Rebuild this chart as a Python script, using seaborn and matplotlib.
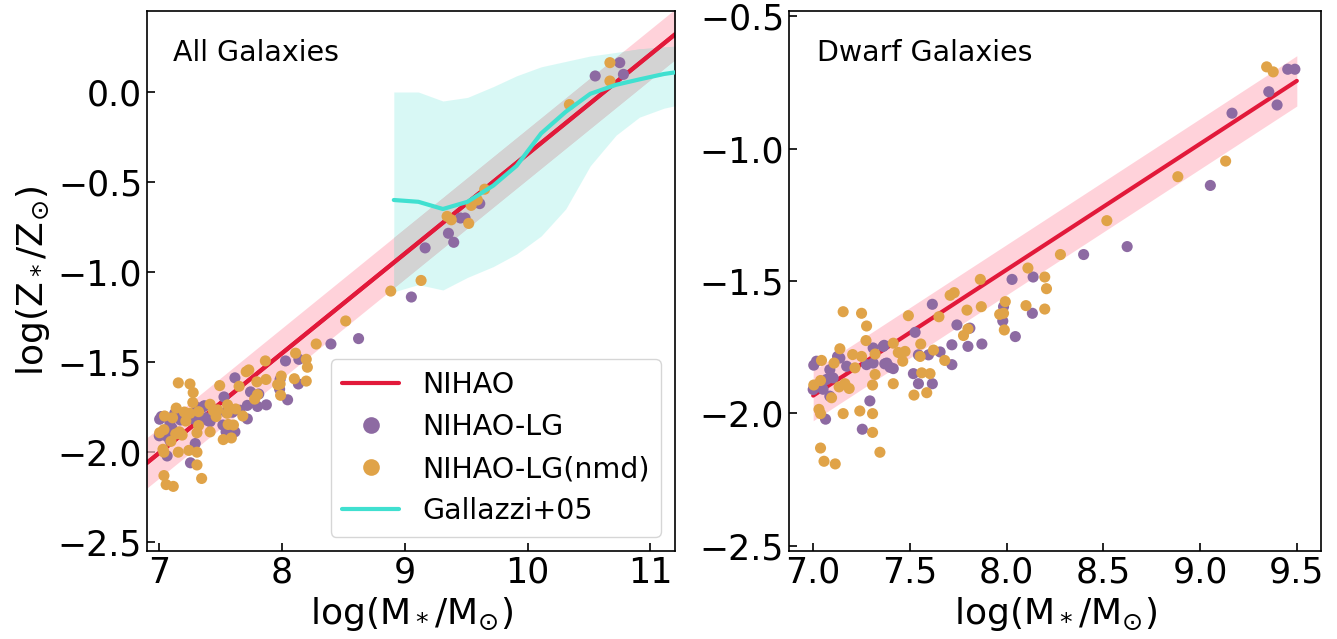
import numpy as np
import matplotlib
matplotlib.use("Agg")
import matplotlib.pyplot as plt
from matplotlib.lines import Line2D
import seaborn as sns

# NIHAO fits (mass-metallicity relation)
nihao_all_x = [6.9, 11.2]
nihao_all_y = [-2.06, 0.32]
nihao_all_sig = 0.14
nihao_dwarf_x = [7.0, 9.5]
nihao_dwarf_y = [-1.933, -0.744]
nihao_dwarf_sig = 0.095

# Gallazzi+05
gal_x = [8.91, 9.11, 9.31, 9.51, 9.72, 9.91, 10.11, 10.31, 10.51, 10.72, 10.91, 11.11, 11.31]
gal_y = [-0.60, -0.61, -0.65, -0.61, -0.52, -0.41, -0.23, -0.11, -0.01, 0.04, 0.07, 0.10, 0.12]
gal_hi = [0.00, 0.00, -0.05, -0.03, 0.03, 0.09, 0.14, 0.17, 0.20, 0.22, 0.24, 0.25, 0.26]
gal_lo = [-1.11, -1.07, -1.10, -1.03, -0.97, -0.90, -0.80, -0.65, -0.41, -0.24, -0.14, -0.09, -0.06]

# NIHAO-LG (dwarfs)
lg_x = [7.0, 7.003, 7.017, 7.051, 7.064, 7.069, 7.086, 7.086, 7.103, 7.126, 7.138, 7.173,
        7.254, 7.276, 7.293, 7.31, 7.31, 7.362, 7.367, 7.37, 7.38, 7.397, 7.414, 7.518,
        7.527, 7.544, 7.544, 7.596, 7.616, 7.616, 7.656, 7.717, 7.717, 7.743, 7.80, 7.81,
        7.872, 7.98, 7.984, 8.028, 8.045, 8.133, 8.137, 8.398, 8.623, 9.053, 9.165, 9.355,
        9.398, 9.453, 9.49]
lg_y = [-1.91, -1.818, -1.803, -1.909, -2.022, -1.872, -1.835, -1.935, -1.866, -1.785, -1.791, -1.822,
        -2.06, -1.816, -1.953, -1.753, -1.81, -1.747, -1.743, -1.813, -1.81, -1.826, -1.831, -1.85,
        -1.694, -1.779, -1.888, -1.779, -1.588, -1.888, -1.768, -1.741, -1.816, -1.666, -1.747, -1.678,
        -1.738, -1.651, -1.597, -1.494, -1.71, -1.622, -1.485, -1.40, -1.37, -1.139, -0.866, -0.785,
        -0.835, -0.70, -0.70]

# NIHAO-LG(nmd) (dwarfs)
nmd_x = [7.003, 7.03, 7.038, 7.038, 7.038, 7.043, 7.056, 7.095, 7.108, 7.114, 7.134, 7.138,
         7.155, 7.155, 7.164, 7.186, 7.204, 7.216, 7.241, 7.25, 7.25, 7.273, 7.276, 7.307,
         7.307, 7.307, 7.32, 7.32, 7.345, 7.414, 7.414, 7.44, 7.463, 7.475, 7.492, 7.521,
         7.553, 7.556, 7.561, 7.587, 7.604, 7.622, 7.65, 7.68, 7.708, 7.729, 7.777, 7.795,
         7.80, 7.864, 7.869, 7.964, 7.984, 7.988, 7.993, 8.10, 8.11, 8.197, 8.197, 8.206,
         8.278, 8.518, 8.885, 9.132, 9.344, 9.378]
nmd_y = [-1.893, -1.985, -1.876, -2.001, -2.131, -1.80, -2.181, -1.941, -1.81, -2.191, -1.90, -1.756,
         -1.616, -2.001, -1.888, -1.906, -1.778, -1.828, -1.991, -1.622, -1.785, -1.725, -1.67, -1.893,
         -2.001, -2.072, -1.776, -1.853, -2.147, -1.735, -1.888, -1.77, -1.803, -1.766, -1.631, -1.931,
         -1.785, -1.738, -1.847, -1.922, -1.85, -1.761, -1.635, -1.80, -1.554, -1.544, -1.706, -1.61,
         -1.681, -1.494, -1.597, -1.626, -1.622, -1.685, -1.578, -1.593, -1.451, -1.485, -1.606, -1.529,
         -1.40, -1.272, -1.106, -1.047, -0.691, -0.71]

# more massive galaxies, only in the left panel
lg_big_x = [9.61, 10.55, 10.75, 10.78]
lg_big_y = [-0.62, 0.089, 0.163, 0.098]
nmd_big_x = [9.52, 9.54, 9.59, 9.65, 10.34, 10.67, 10.67]
nmd_big_y = [-0.73, -0.63, -0.60, -0.54, -0.07, 0.163, 0.061]

c_red = "#E2193A"
c_purple = "#8D6AA2"
c_orange = "#E0A348"
c_turq = "turquoise"

sns.set_style("white")
plt.rcParams["font.family"] = ["DejaVu Sans"]
plt.rcParams["mathtext.fontset"] = "dejavusans"
for k in ("text.color", "axes.labelcolor", "xtick.color", "ytick.color"):
    plt.rcParams[k] = "black"

fig = plt.figure(figsize=(13.37, 6.39), dpi=100)
ax1 = fig.add_axes([147 / 1337, 88 / 639, 528 / 1337, 540 / 639])
ax2 = fig.add_axes([789 / 1337, 88 / 639, 532 / 1337, 540 / 639])


def nihao_band(ax, xs, ys, sig):
    xs = np.array(xs)
    ys = np.array(ys)
    ax.fill_between(xs, ys - sig, ys + sig, color="pink", alpha=0.7, lw=0, zorder=1)
    sns.lineplot(x=xs, y=ys, color=c_red, lw=3, ax=ax, zorder=2)


# --- left panel: all galaxies
nihao_band(ax1, nihao_all_x, nihao_all_y, nihao_all_sig)
ax1.fill_between(gal_x, gal_lo, gal_hi, color=c_turq, alpha=0.2, lw=0, zorder=1)
# overlap of the NIHAO band with the Gallazzi band
xx = np.linspace(gal_x[0], nihao_all_x[1], 300)
yy = np.interp(xx, nihao_all_x, nihao_all_y)
top = np.minimum(yy + nihao_all_sig, np.interp(xx, gal_x, gal_hi))
bot = np.maximum(yy - nihao_all_sig, np.interp(xx, gal_x, gal_lo))
ax1.fill_between(xx, bot, top, where=top > bot, color="lightgray", lw=0, zorder=1.5)
# redraw the red line above the gray
sns.lineplot(x=nihao_all_x, y=nihao_all_y, color=c_red, lw=3, ax=ax1, zorder=2)

sns.scatterplot(x=lg_x + lg_big_x, y=lg_y + lg_big_y, color=c_purple, s=64,
                edgecolor="none", ax=ax1, zorder=3)
sns.scatterplot(x=nmd_x + nmd_big_x, y=nmd_y + nmd_big_y, color=c_orange, s=64,
                edgecolor="none", ax=ax1, zorder=3)
sns.lineplot(x=gal_x, y=gal_y, color=c_turq, lw=3, sort=False, ax=ax1, zorder=4)

ax1.set_xlim(6.9, 11.2)
ax1.set_ylim(-2.55, 0.45)
ax1.set_xticks([7, 8, 9, 10, 11])
ax1.set_yticks([-2.5, -2.0, -1.5, -1.0, -0.5, 0.0])
ax1.text(0.05, 0.907, "All Galaxies", transform=ax1.transAxes, fontsize=20.5,
         va="baseline", ha="left")
ax1.set_ylabel(r"log(Z$_*$/Z$_{\odot}$)", fontsize=26)

handles = [
    Line2D([], [], color=c_red, lw=3),
    Line2D([], [], ls="none", marker="o", color=c_purple, markersize=12, markeredgewidth=0),
    Line2D([], [], ls="none", marker="o", color=c_orange, markersize=12, markeredgewidth=0),
    Line2D([], [], color=c_turq, lw=3),
]
ax1.legend(handles, ["NIHAO", "NIHAO-LG", "NIHAO-LG(nmd)", "Gallazzi+05"],
           loc="lower right", fontsize=20.5, frameon=True)

# --- right panel: dwarf galaxies
nihao_band(ax2, nihao_dwarf_x, nihao_dwarf_y, nihao_dwarf_sig)
sns.scatterplot(x=lg_x, y=lg_y, color=c_purple, s=64, edgecolor="none", ax=ax2, zorder=3)
sns.scatterplot(x=nmd_x, y=nmd_y, color=c_orange, s=64, edgecolor="none", ax=ax2, zorder=3)
ax2.set_xlim(6.875, 9.625)
ax2.set_ylim(-2.52, -0.48)
ax2.set_xticks([7.0, 7.5, 8.0, 8.5, 9.0, 9.5])
ax2.set_yticks([-2.5, -2.0, -1.5, -1.0, -0.5])
ax2.text(0.052, 0.907, "Dwarf Galaxies", transform=ax2.transAxes, fontsize=20.5,
         va="baseline", ha="left")

for ax in (ax1, ax2):
    ax.set_xlabel(r"log(M$_*$/M$_{\odot}$)", fontsize=26)
    ax.tick_params(direction="in", length=6, width=1.2, labelsize=25, colors="black",
                   left=True, bottom=True, top=False, right=False)
    for sp in ax.spines.values():
        sp.set_linewidth(1.2)
        sp.set_color("black")

fig.savefig("out.png", dpi=100)
